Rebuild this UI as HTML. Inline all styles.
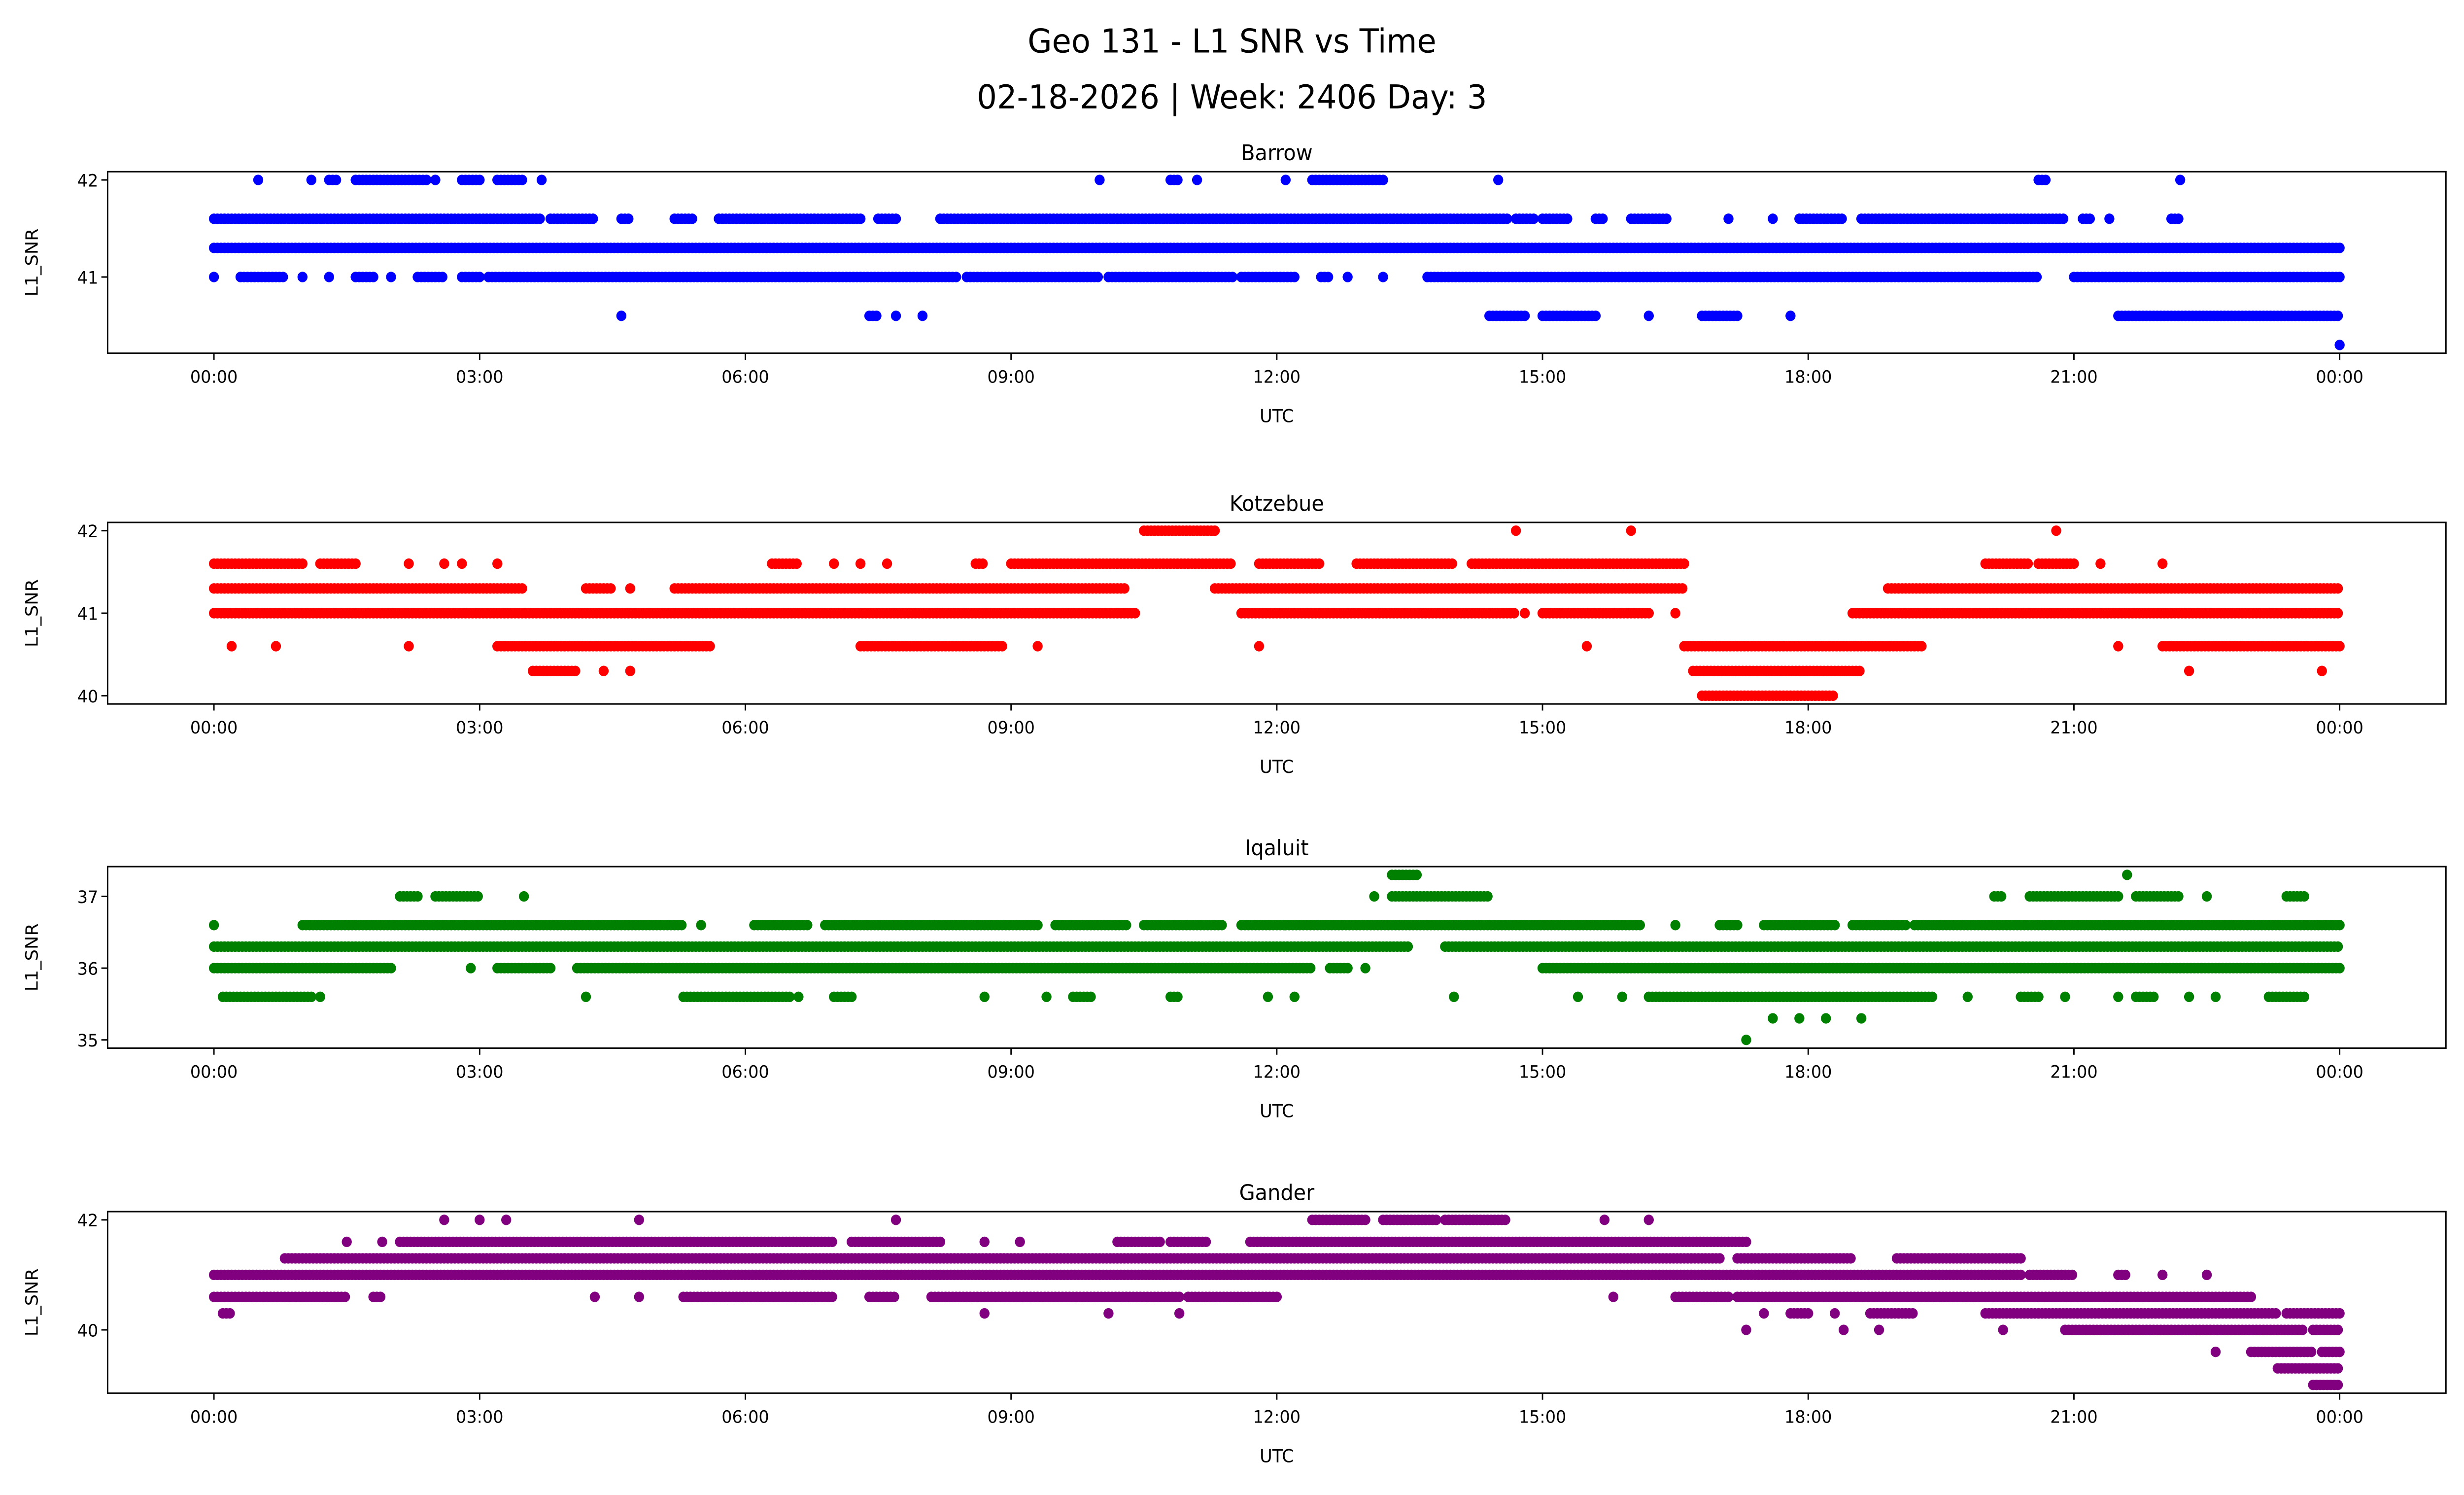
<!DOCTYPE html>
<html><head><meta charset="utf-8"><style>
html,body{margin:0;padding:0;background:#fff;width:100%;height:100%;overflow:hidden}
svg{display:block;font-family:"DejaVu Sans","Liberation Sans",sans-serif;width:100vw;height:100vh}
</style></head><body>
<svg id="fig" viewBox="0 0 1568 910" preserveAspectRatio="none" xmlns="http://www.w3.org/2000/svg">
<rect width="1568" height="910" fill="#fff"/>
<g id="root">
<text x="784" y="32" font-size="20" text-anchor="middle">Geo 131 - L1 SNR vs Time</text>
<text x="784" y="66" font-size="20" text-anchor="middle">02-18-2026 | Week: 2406 Day: 3</text>
</g>
</svg>
<script>
// x tick labels
const xTickHours = [0,3,6,9,12,15,18,21,24];
const xTickLabels = ["00:00","03:00","06:00","09:00","12:00","15:00","18:00","21:00","00:00"];
// station names
const stationNames = ["Barrow","Kotzebue","Iqaluit","Gander"];
const stationColors = ["#0000ff","#ff0000","#008000","#800080"];
// y ticks per station
const barrowTicks = [41,42];
const kotzebueTicks = [40,41,42];
const iqaluitTicks = [35,36,37];
const ganderTicks = [40,42];
// y limits per station
const barrowYLim = [40.215,42.085];
const kotzebueYLim = [39.9,42.1];
const iqaluitYLim = [34.885,37.415];
const ganderYLim = [38.85,42.15];
// runs: [snr level, start hour, end hour]
const barrowRuns = [
[42,0.5,0.5],[42,1.1,1.1],[42,1.3,1.4],[42,1.6,2.4],[42,2.5,2.5],[42,2.8,3.0],[42,3.2,3.5],[42,3.7,3.7],[42,10.0,10.0],[42,10.8,10.9],[42,11.1,11.1],[42,12.1,12.1],[42,12.4,13.2],[42,14.5,14.5],[42,20.6,20.7],[42,22.2,22.2],
[41.6,0,3.7],[41.6,3.8,4.3],[41.6,4.6,4.7],[41.6,5.2,5.4],[41.6,5.7,7.3],[41.6,7.5,7.7],[41.6,8.2,14.6],[41.6,14.7,14.9],[41.6,15.0,15.3],[41.6,15.6,15.7],[41.6,16.0,16.4],[41.6,17.1,17.1],[41.6,17.6,17.6],[41.6,17.9,18.4],[41.6,18.6,20.9],[41.6,21.1,21.2],[41.6,21.4,21.4],[41.6,22.1,22.2],
[41.3,0,24],
[41,0,0],[41,0.3,0.8],[41,1.0,1.0],[41,1.3,1.3],[41,1.6,1.8],[41,2.0,2.0],[41,2.3,2.6],[41,2.8,3.0],[41,3.1,8.4],[41,8.5,10.0],[41,10.1,11.5],[41,11.6,12.2],[41,12.5,12.6],[41,12.8,12.8],[41,13.2,13.2],[41,13.7,20.6],[41,21.0,24],
[40.6,4.6,4.6],[40.6,7.4,7.5],[40.6,7.7,7.7],[40.6,8.0,8.0],[40.6,14.4,14.8],[40.6,15.0,15.6],[40.6,16.2,16.2],[40.6,16.8,17.2],[40.6,17.8,17.8],[40.6,21.5,24],
[40.3,24,24]];
const kotzebueRuns = [
[42,10.5,11.3],[42,14.7,14.7],[42,16.0,16.0],[42,20.8,20.8],
[41.6,0,1.0],[41.6,1.2,1.6],[41.6,2.2,2.2],[41.6,2.6,2.6],[41.6,2.8,2.8],[41.6,3.2,3.2],[41.6,6.3,6.6],[41.6,7.0,7.0],[41.6,7.3,7.3],[41.6,7.6,7.6],[41.6,8.6,8.7],[41.6,9.0,11.5],[41.6,11.8,12.5],[41.6,12.9,14.0],[41.6,14.2,16.6],[41.6,20.0,20.5],[41.6,20.6,21.0],[41.6,21.3,21.3],[41.6,22.0,22.0],
[41.3,0,3.5],[41.3,4.2,4.5],[41.3,4.7,4.7],[41.3,5.2,10.3],[41.3,11.3,16.6],[41.3,18.9,24],
[41,0,10.4],[41,11.6,14.7],[41,14.8,14.8],[41,15.0,16.2],[41,16.5,16.5],[41,18.5,24],
[40.6,0.2,0.2],[40.6,0.7,0.7],[40.6,2.2,2.2],[40.6,3.2,5.6],[40.6,7.3,8.9],[40.6,9.3,9.3],[40.6,11.8,11.8],[40.6,15.5,15.5],[40.6,16.6,19.3],[40.6,21.5,21.5],[40.6,22.0,24],
[40.3,3.6,4.1],[40.3,4.4,4.4],[40.3,4.7,4.7],[40.3,16.7,18.6],[40.3,22.3,22.3],[40.3,23.8,23.8],
[40,16.8,18.3]];
const iqaluitRuns = [
[37.3,13.3,13.6],[37.3,21.6,21.6],
[37,2.1,2.3],[37,2.5,3.0],[37,3.5,3.5],[37,13.1,13.1],[37,13.3,14.4],[37,20.1,20.2],[37,20.5,21.5],[37,21.7,22.2],[37,22.5,22.5],[37,23.4,23.6],
[36.6,0,0],[36.6,1.0,5.3],[36.6,5.5,5.5],[36.6,6.1,6.7],[36.6,6.9,9.3],[36.6,9.5,10.3],[36.6,10.5,11.4],[36.6,11.6,12.1],[36.6,12.1,16.1],[36.6,16.5,16.5],[36.6,17.0,17.2],[36.6,17.5,18.3],[36.6,18.5,19.1],[36.6,19.2,24],
[36.3,0,13.5],[36.3,13.9,24],
[36,0,2.0],[36,2.9,2.9],[36,3.2,3.8],[36,4.1,12.4],[36,12.6,12.8],[36,13.0,13.0],[36,15.0,24],
[35.6,0.1,1.1],[35.6,1.2,1.2],[35.6,4.2,4.2],[35.6,5.3,6.5],[35.6,6.6,6.6],[35.6,7.0,7.2],[35.6,8.7,8.7],[35.6,9.4,9.4],[35.6,9.7,9.9],[35.6,10.8,10.9],[35.6,11.9,11.9],[35.6,12.2,12.2],[35.6,14.0,14.0],[35.6,15.4,15.4],[35.6,15.9,15.9],[35.6,16.2,19.4],[35.6,19.8,19.8],[35.6,20.4,20.6],[35.6,20.9,20.9],[35.6,21.5,21.5],[35.6,21.7,21.9],[35.6,22.3,22.3],[35.6,22.6,22.6],[35.6,23.2,23.6],
[35.3,17.6,17.6],[35.3,17.9,17.9],[35.3,18.2,18.2],[35.3,18.6,18.6],
[35,17.3,17.3]];
const ganderRuns = [
[42,2.6,2.6],[42,3.0,3.0],[42,3.3,3.3],[42,4.8,4.8],[42,7.7,7.7],[42,12.4,13.0],[42,13.2,13.8],[42,13.9,14.6],[42,15.7,15.7],[42,16.2,16.2],
[41.6,1.5,1.5],[41.6,1.9,1.9],[41.6,2.1,7.0],[41.6,7.2,8.2],[41.6,8.7,8.7],[41.6,9.1,9.1],[41.6,10.2,10.7],[41.6,10.8,11.2],[41.6,11.7,17.3],
[41.3,0.8,17.0],[41.3,17.2,18.5],[41.3,19.0,20.4],
[41,0,20.4],[41,20.5,21.0],[41,21.5,21.6],[41,22.0,22.0],[41,22.5,22.5],
[40.6,0,1.5],[40.6,1.8,1.9],[40.6,4.3,4.3],[40.6,4.8,4.8],[40.6,5.3,7.0],[40.6,7.4,7.7],[40.6,8.1,10.9],[40.6,11.0,12.0],[40.6,15.8,15.8],[40.6,16.5,17.1],[40.6,17.2,23.0],
[40.3,0.1,0.2],[40.3,8.7,8.7],[40.3,10.1,10.1],[40.3,10.9,10.9],[40.3,17.5,17.5],[40.3,17.8,18.0],[40.3,18.3,18.3],[40.3,18.7,19.2],[40.3,20.0,23.3],[40.3,23.4,24],
[40,17.3,17.3],[40,18.4,18.4],[40,18.8,18.8],[40,20.2,20.2],[40,20.9,23.6],[40,23.7,24],
[39.6,22.6,22.6],[39.6,23.0,23.7],[39.6,23.8,24],
[39.3,23.3,24],
[39,23.7,24]];

const allRuns = [barrowRuns,kotzebueRuns,iqaluitRuns,ganderRuns];
const allTicks = [barrowTicks,kotzebueTicks,iqaluitTicks,ganderTicks];
const allYLim = [barrowYLim,kotzebueYLim,iqaluitYLim,ganderYLim];

const NS="http://www.w3.org/2000/svg";
const root=document.getElementById('root');
const axL=68.5, axR=1556.5, axTops=[104.5,318,527.5,737.5], axH=110.5;
const xMin=-1.2, xMax=25.2;
function xs(h){return axL+(h-xMin)/(xMax-xMin)*(axR-axL);}
function mk(tag,attrs,parent){const e=document.createElementNS(NS,tag);for(const k in attrs)e.setAttribute(k,attrs[k]);(parent||root).appendChild(e);return e;}

for(let i=0;i<4;i++){
  const top=axTops[i], bot=top+axH, yl=allYLim[i];
  const ys=v=>bot-(v-yl[0])/(yl[1]-yl[0])*axH;
  const g=mk('g',{});
  
  
  const t=mk('text',{x:(axL+axR)/2,y:top-7,'font-size':13,'text-anchor':'middle'},g);
  t.textContent=stationNames[i];
  
  
  const pg=mk('g',{fill:stationColors[i]},g);
  
  
  allRuns[i].forEach(r=>{
    for(let h=r[1]; h<=r[2]+1e-9; h+=0.04){
      const c=mk('circle',{cx:xs(h).toFixed(2),cy:ys(r[0]).toFixed(2),r:3.2},pg);
      
      
    }
  });
  const fr=mk('rect',{x:axL,y:top,width:axR-axL,height:axH,fill:'none',stroke:'#000','stroke-width':0.9},g);
  
  
  xTickHours.forEach((h,j)=>{
    const x=xs(h);
    mk('line',{x1:x,x2:x,y1:bot,y2:bot+4,stroke:'#000','stroke-width':0.9},g);
    const tl=mk('text',{x:x,y:bot+18,'font-size':10.5,'text-anchor':'middle'},g);
    tl.textContent=xTickLabels[j];
    
    
  });
  allTicks[i].forEach(v=>{
    const y=ys(v);
    mk('line',{x1:axL-4,x2:axL,y1:y,y2:y,stroke:'#000','stroke-width':0.9},g);
    const tl=mk('text',{x:axL-6,y:y+4,'font-size':10.5,'text-anchor':'end'},g);
    tl.textContent=String(v);
    
    
  });
  const xl=mk('text',{x:(axL+axR)/2,y:bot+42,'font-size':11,'text-anchor':'middle'},g);
  xl.textContent='UTC';
  
  
  const yc=top+axH/2;
  const yt=mk('text',{x:24,y:yc,'font-size':11,'text-anchor':'middle',transform:'rotate(-90 24 '+yc+')'},g);
  yt.textContent='L1_SNR';
  
  
}
</script>
</body></html>
